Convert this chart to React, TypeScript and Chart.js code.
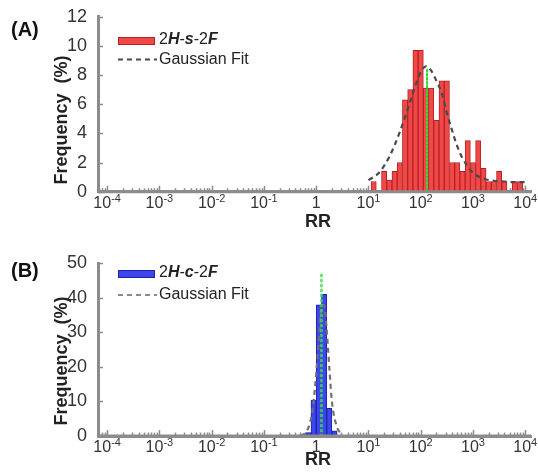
import { useEffect, useRef } from "react";
import { Chart, registerables } from "chart.js";

Chart.register(...registerables);

const FONT = "'Liberation Sans', Arial, Helvetica, sans-serif";

// ---------- shared axis data ----------
const xTickExponents = [-4, -3, -2, -1, 0, 1, 2, 3, 4];
const minorMultipliers = [2, 3, 4, 5, 6, 7, 8, 9];
const xMinExp = -4.175;
const xMaxExp = 4.11;

// ---------- panel A: 2H-s-2F ----------
const seriesNameA = "2H-s-2F";
const binExpA = [1.1, 1.2, 1.3, 1.4, 1.5, 1.6, 1.7, 1.8, 1.9, 2.0, 2.1, 2.2, 2.3, 2.4, 2.5, 2.6, 2.7, 2.8, 2.9, 3.0, 3.1, 3.2, 3.3, 3.4, 3.5, 3.6, 3.7, 3.8, 3.9];
const freqA = [0.7, 0, 1.4, 0.8, 1.4, 2.0, 6.3, 7.0, 9.7, 9.7, 7.1, 7.1, 4.9, 7.6, 7.6, 2.0, 2.0, 1.4, 3.5, 2.0, 3.5, 1.6, 0.7, 0.7, 1.4, 0.7, 0, 0.7, 0.7];
const gaussExpA = [1.0, 1.2, 1.4, 1.6, 1.8, 1.9, 2.0, 2.1, 2.2, 2.3, 2.4, 2.5, 2.6, 2.7, 2.8, 3.0, 3.2, 3.4, 3.6, 3.8, 4.0];
const gaussA = [0.8, 1.3, 2.4, 4.1, 6.2, 7.3, 8.2, 8.6, 8.3, 7.6, 6.8, 5.4, 4.2, 3.1, 2.3, 1.3, 0.9, 0.75, 0.7, 0.65, 0.65];
const peakExpA = 2.12;
const peakTopA = 8.5;
const yMaxA = 12;
const yStepA = 2;

// ---------- panel B: 2H-c-2F ----------
const seriesNameB = "2H-c-2F";
const binExpB = [-0.15, -0.05, 0.05, 0.15, 0.25, 0.35];
const freqB = [1.0, 10.4, 38, 41, 8, 1.5];
const gaussExpB = [-0.3, -0.2, -0.1, -0.05, 0.0, 0.05, 0.1, 0.15, 0.2, 0.25, 0.3, 0.4, 0.5];
const gaussB = [0.2, 1, 5, 10, 18, 28, 37, 38, 31, 20, 10, 2.5, 0.4];
const peakExpB = 0.1;
const peakTopB = 47;
const yMaxB = 50;
const yStepB = 10;

const fitLabel = "Gaussian Fit";
const xTitle = "RR";
const yTitle = "Frequency  (%)";

type Decor = {
  panel: string;
  panelY: number;
  name: string;
  swFill: string;
  swBorder: string;
  swY: number;
  nameY: number;
  fitY: number;
  dashColor: string;
  yTitleY: number;
  rrY: number;
  tickY: number;
};

function drawPieces(ctx: CanvasRenderingContext2D, text: string, x: number, y: number, size: number) {
  let cx = x;
  for (const ch of text) {
    const styled = /[A-Za-z]/.test(ch);
    ctx.font = styled ? `italic bold ${size}px ${FONT}` : `${size}px ${FONT}`;
    ctx.fillText(ch, cx, y);
    cx += ctx.measureText(ch).width;
  }
}

function makeDecor(d: Decor) {
  return {
    id: "decor" + d.panel,
    beforeDatasetsDraw(chart: any) {
      const ctx = chart.ctx as CanvasRenderingContext2D;
      const xs = chart.scales.x;
      const ys = chart.scales.y;
      const area = chart.chartArea;
      ctx.save();
      ctx.strokeStyle = "#8c8c8c";
      ctx.lineWidth = 1.5;
      // inward x ticks
      for (let dec = -5; dec <= 4; dec++) {
        for (const m of [1, ...minorMultipliers]) {
          const v = m * Math.pow(10, dec);
          if (v < xs.min || v > xs.max) continue;
          const px = Math.round(xs.getPixelForValue(v)) + 0.5;
          const len = m === 1 ? 6 : 3.5;
          ctx.beginPath();
          ctx.moveTo(px, area.bottom);
          ctx.lineTo(px, area.bottom - len);
          ctx.stroke();
        }
      }
      // inward y ticks
      for (const t of ys.ticks) {
        const py = Math.round(ys.getPixelForValue(t.value)) + 0.5;
        ctx.beginPath();
        ctx.moveTo(area.left, py);
        ctx.lineTo(area.left + 5, py);
        ctx.stroke();
      }
      ctx.restore();
    },
    afterDatasetsDraw(chart: any) {
      const ctx = chart.ctx as CanvasRenderingContext2D;
      const xs = chart.scales.x;
      const area = chart.chartArea;
      ctx.save();
      // baseline over bars
      ctx.strokeStyle = "#8c8c8c";
      ctx.lineWidth = 3;
      ctx.beginPath();
      ctx.moveTo(area.left, area.bottom);
      ctx.lineTo(area.right, area.bottom);
      ctx.stroke();

      // x tick labels with superscripts
      ctx.fillStyle = "#333";
      ctx.textBaseline = "middle";
      ctx.textAlign = "left";
      for (const e of xTickExponents) {
        const px = xs.getPixelForValue(Math.pow(10, e));
        if (e === 0) {
          ctx.font = `16px ${FONT}`;
          const w = ctx.measureText("1").width;
          ctx.fillText("1", px - w / 2, d.tickY);
        } else {
          ctx.font = `16px ${FONT}`;
          const wb = ctx.measureText("10").width;
          ctx.font = `11px ${FONT}`;
          const es = String(e);
          const we = ctx.measureText(es).width;
          const sx = px - (wb + we) / 2;
          ctx.font = `16px ${FONT}`;
          ctx.fillText("10", sx, d.tickY);
          ctx.font = `11px ${FONT}`;
          ctx.fillText(es, sx + wb, d.tickY - 5);
        }
      }

      // axis titles
      ctx.fillStyle = "#222";
      ctx.font = `bold 18px ${FONT}`;
      ctx.textAlign = "center";
      ctx.fillText(xTitle, 318, d.rrY);
      ctx.save();
      ctx.translate(62, d.yTitleY);
      ctx.rotate(-Math.PI / 2);
      ctx.fillText(yTitle, 0, 0);
      ctx.restore();

      // panel label
      ctx.textAlign = "left";
      ctx.font = `bold 20px ${FONT}`;
      ctx.fillStyle = "#111";
      ctx.fillText(d.panel, 11, d.panelY);

      // legend
      ctx.fillStyle = d.swFill;
      ctx.fillRect(118, d.swY - 4, 37, 8);
      ctx.strokeStyle = d.swBorder;
      ctx.lineWidth = 1;
      ctx.strokeRect(118.5, d.swY - 3.5, 36, 7);
      ctx.fillStyle = "#222";
      drawPieces(ctx, d.name, 159, d.nameY, 16);
      ctx.strokeStyle = d.dashColor;
      ctx.lineWidth = 2;
      ctx.setLineDash([5, 4]);
      ctx.beginPath();
      ctx.moveTo(118, d.fitY);
      ctx.lineTo(157, d.fitY);
      ctx.stroke();
      ctx.setLineDash([]);
      ctx.font = `16px ${FONT}`;
      ctx.fillStyle = "#222";
      ctx.fillText(fitLabel, 159, d.fitY);
      ctx.restore();
    },
  };
}

function buildConfig(opts: {
  binExp: number[];
  freq: number[];
  gaussExp: number[];
  gauss: number[];
  peakExp: number;
  peakTop: number;
  yMax: number;
  yStep: number;
  barFill: string;
  barBorder: string;
  dashColor: string;
  greenColor: string;
  greenWidth: number;
  greenDash: number[];
  padTop: number;
  xHeight: number;
  decor: Decor;
}) {
  return {
    type: "bar",
    data: {
      datasets: [
        {
          type: "line",
          label: "peak",
          data: [
            { x: Math.pow(10, opts.peakExp), y: 0 },
            { x: Math.pow(10, opts.peakExp), y: opts.peakTop },
          ],
          borderColor: opts.greenColor,
          borderWidth: opts.greenWidth,
          borderDash: opts.greenDash,
          borderCapStyle: "round",
          pointRadius: 0,
          order: 0,
        },
        {
          type: "line",
          label: fitLabel,
          data: opts.gaussExp.map((e, i) => ({ x: Math.pow(10, e), y: opts.gauss[i] })),
          borderColor: opts.dashColor,
          borderWidth: 2.2,
          borderDash: [5, 4],
          pointRadius: 0,
          cubicInterpolationMode: "monotone",
          order: 1,
        },
        {
          type: "bar",
          label: opts.decor.name,
          data: opts.binExp.map((e, i) => ({ x: Math.pow(10, e), y: opts.freq[i] })),
          backgroundColor: opts.barFill,
          borderColor: opts.barBorder,
          borderWidth: 1,
          barPercentage: 1,
          categoryPercentage: 1,
          order: 2,
        },
      ],
    },
    options: {
      responsive: false,
      animation: false,
      layout: { padding: { left: 0, right: 7, top: opts.padTop, bottom: 0 } },
      plugins: { legend: { display: false }, tooltip: { enabled: false } },
      scales: {
        x: {
          type: "logarithmic",
          min: Math.pow(10, xMinExp),
          max: Math.pow(10, xMaxExp),
          grid: { display: false },
          border: { display: true, color: "#8c8c8c", width: 3 },
          ticks: { display: false },
          afterBuildTicks: (s: any) => {
            s.ticks = xTickExponents.map((e) => ({ value: Math.pow(10, e) }));
          },
          afterFit: (s: any) => {
            s.height = opts.xHeight;
            s.paddingLeft = 0;
            s.paddingRight = 0;
          },
        },
        y: {
          min: 0,
          max: opts.yMax,
          grid: { display: false },
          border: { display: true, color: "#8c8c8c", width: 3 },
          ticks: {
            stepSize: opts.yStep,
            color: "#333",
            padding: 3,
            font: { family: FONT, size: 18 },
          },
          afterFit: (s: any) => {
            s.width = 98;
            s.paddingTop = 0;
            s.paddingBottom = 0;
          },
        },
      },
    },
    plugins: [makeDecor(opts.decor)],
  } as any;
}

export default function App() {
  const refA = useRef<HTMLCanvasElement | null>(null);
  const refB = useRef<HTMLCanvasElement | null>(null);

  useEffect(() => {
    const chartA = new Chart(
      refA.current as HTMLCanvasElement,
      buildConfig({
        binExp: binExpA,
        freq: freqA,
        gaussExp: gaussExpA,
        gauss: gaussA,
        peakExp: peakExpA,
        peakTop: peakTopA,
        yMax: yMaxA,
        yStep: yStepA,
        barFill: "#f04848",
        barBorder: "#b52222",
        dashColor: "#4a4a4a",
        greenColor: "#33d633",
        greenWidth: 2,
        greenDash: [2, 2],
        padTop: 16.7,
        xHeight: 48.3,
        decor: {
          panel: "(A)",
          panelY: 30,
          name: seriesNameA,
          swFill: "#f04848",
          swBorder: "#b52222",
          swY: 41,
          nameY: 40,
          fitY: 59.5,
          dashColor: "#4a4a4a",
          yTitleY: 120,
          rrY: 222,
          tickY: 204,
        },
      })
    );
    const chartB = new Chart(
      refB.current as HTMLCanvasElement,
      buildConfig({
        binExp: binExpB,
        freq: freqB,
        gaussExp: gaussExpB,
        gauss: gaussB,
        peakExp: peakExpB,
        peakTop: peakTopB,
        yMax: yMaxB,
        yStep: yStepB,
        barFill: "#3c46ec",
        barBorder: "#1e22a8",
        dashColor: "#707070",
        greenColor: "rgba(70,220,90,0.8)",
        greenWidth: 3,
        greenDash: [1, 4],
        padTop: 23.3,
        xHeight: 40,
        decor: {
          panel: "(B)",
          panelY: 31,
          name: seriesNameB,
          swFill: "#3c46ec",
          swBorder: "#1e22a8",
          swY: 34,
          nameY: 33,
          fitY: 55,
          dashColor: "#8a8a8a",
          yTitleY: 121,
          rrY: 220,
          tickY: 208,
        },
      })
    );
    return () => {
      chartA.destroy();
      chartB.destroy();
    };
  }, []);

  return (
    <div style={{ position: "absolute", left: 0, top: 0, width: 538, height: 476, background: "#fff" }}>
      <canvas ref={refA} width={538} height={240} style={{ position: "absolute", left: 0, top: 0, width: 538, height: 240 }} />
      <canvas ref={refB} width={538} height={236} style={{ position: "absolute", left: 0, top: 240, width: 538, height: 236 }} />
    </div>
  );
}
